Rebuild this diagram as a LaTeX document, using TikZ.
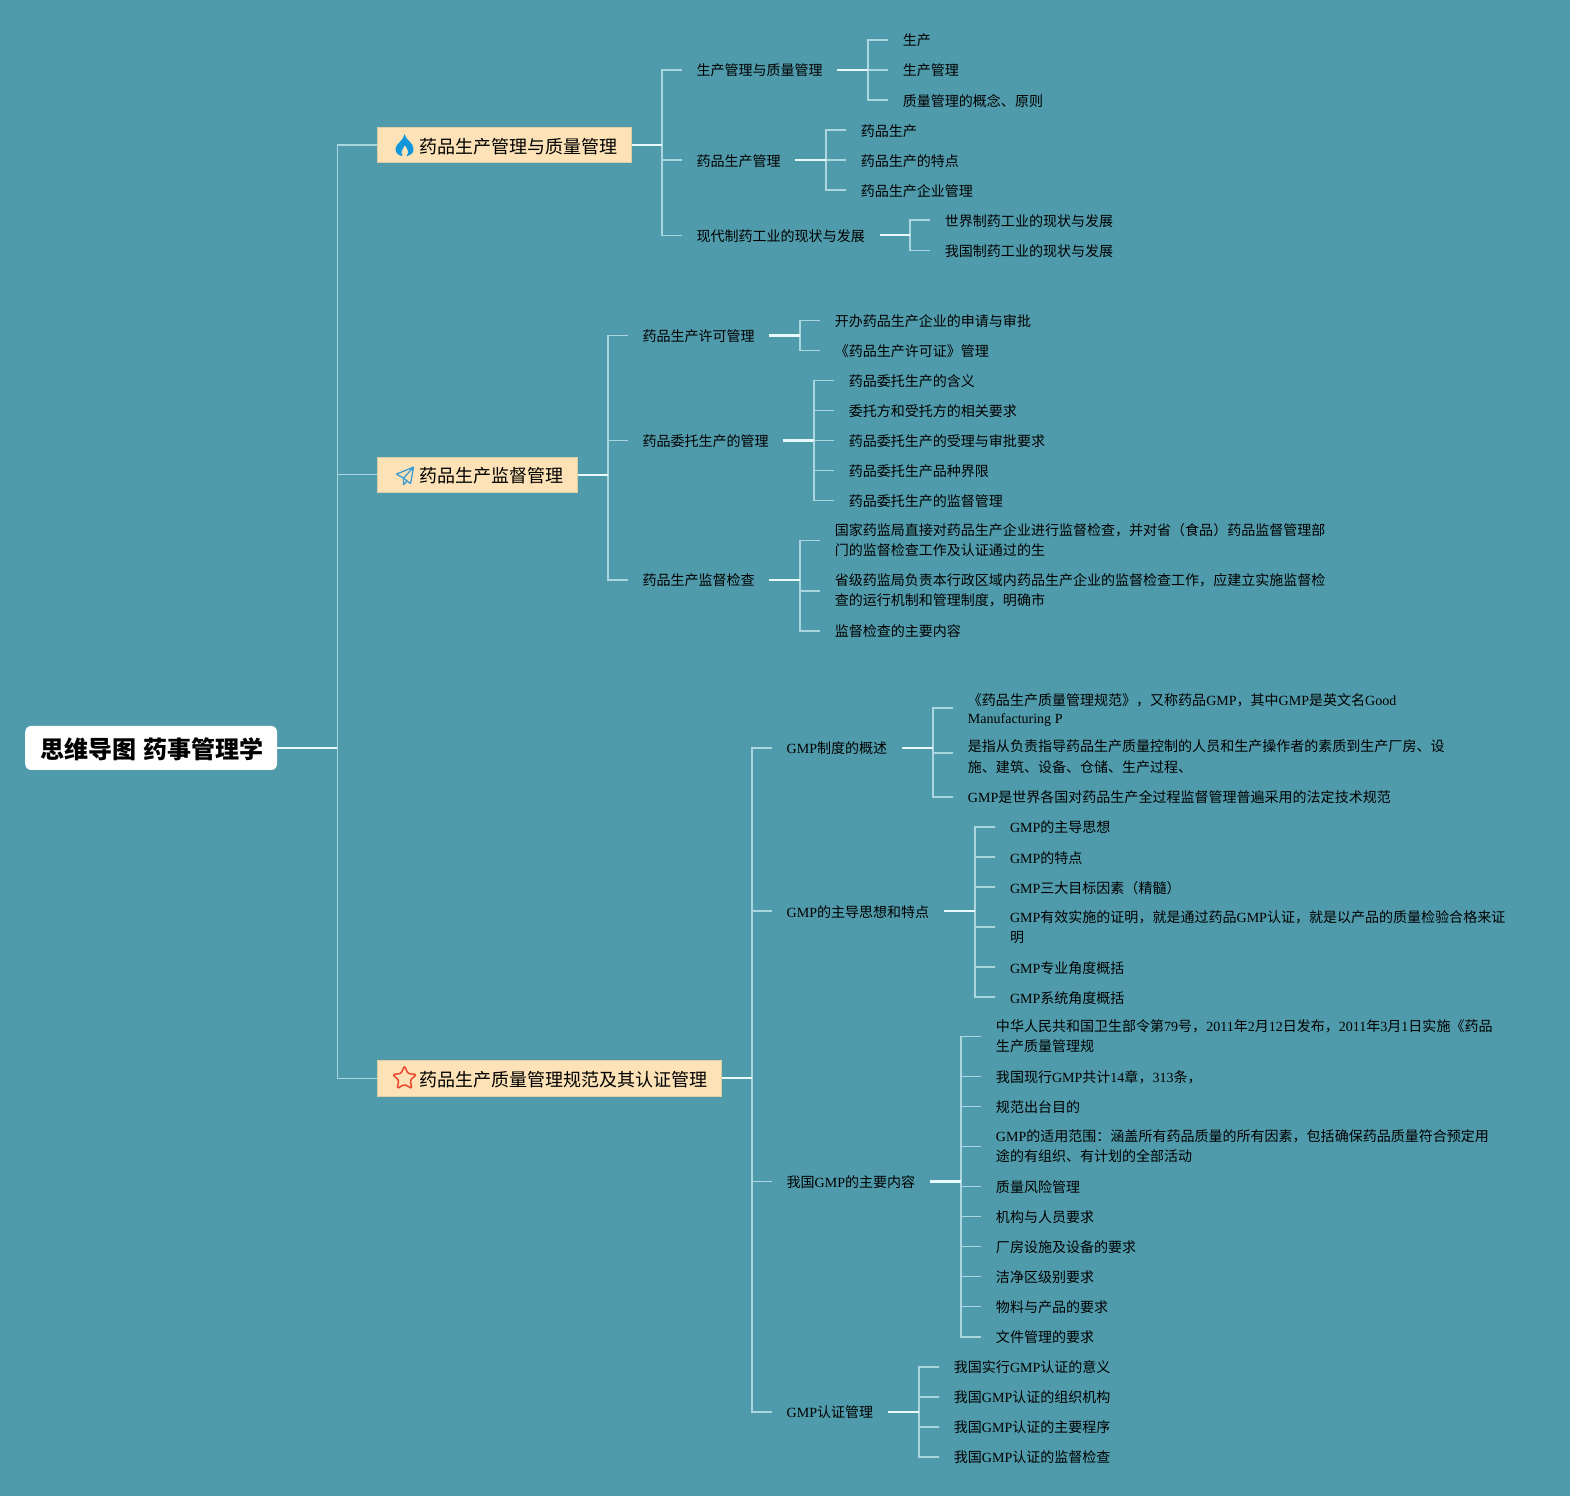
\documentclass[tikz,border=0pt]{standalone}
\usepackage{fontspec}
\usepackage{xcolor}
\setmainfont{Noto Sans CJK SC}
\newfontfamily\latfont{Liberation Serif}
\newcommand{\lat}[1]{{\latfont #1}}
\newcommand{\propup}[2]{\leavevmode\vrule height #1pt depth #2pt width 0pt\relax}
\usetikzlibrary{positioning, shapes.geometric, calc}
\definecolor{cBack}{HTML}{509BAB}
\definecolor{cTopic}{HTML}{FCE2B6}
\definecolor{cTopicB}{HTML}{DCCDA4}
\definecolor{cLink}{HTML}{ABD6E0}
\definecolor{cLinkB}{HTML}{E9FAFC}
\definecolor{cFlame}{HTML}{1296DB}
\definecolor{cPlane}{HTML}{3C9BD0}
\definecolor{cStar}{HTML}{E8482F}
\tikzset{
  rootbox/.style={anchor=west, fill=white, rounded corners=6pt, minimum height=44pt, inner xsep=15pt, inner ysep=0pt,
    font=\fontsize{24}{28}\selectfont\bfseries, execute at begin node={\propup{23}{0.8}}},
  topic/.style={anchor=west, fill=cTopic, draw=cTopicB, line width=0.8pt, minimum height=35pt, inner xsep=14pt, inner ysep=0pt,
    text=black, font=\fontsize{18}{22}\selectfont, execute at begin node={\propup{18}{0.3}}},
  leaf/.style={anchor=west, inner xsep=14.5pt, inner ysep=0pt, align=left, text=black, font=\fontsize{14}{20}\selectfont,
    execute at begin node={\propup{13.6}{1.8}}, execute at end node={\propup{13.6}{1.8}}},
  link/.style={draw=cLink, line width=1.6pt},
  linkmain/.style={draw=cLinkB, line width=2.2pt}
}

\begin{document}
\begin{tikzpicture}[x=1pt, y=-1pt]
  \fill[cBack] (0,0) rectangle (1568,1494);
  \useasboundingbox (0,0) rectangle (1568,1494);

  % root and topics
  \node[rootbox] (root) at (25,747) {思维导图 \hspace{2pt}药事管理学\hspace*{-2pt}};
  \node[topic] (prod) at (377,145) {\hspace*{27.5pt}药品生产管理与质量管理};
  \node[topic] (superv) at (377,474) {\hspace*{27.5pt}药品生产监督管理};
  \node[topic] (gmp) at (377,1077) {\hspace*{27.5pt}药品生产质量管理规范及其认证管理};
  \foreach \nm in {prod, superv, gmp}{
    \draw[link] (337,747) |- (\nm.west);
  }
  \draw[linkmain] (root.east) -- (337,747);

  % icons
  \fill[cFlame] (404,134) .. controls (405,140) and (413,142) .. (413,149)
    .. controls (413,153) and (410,155) .. (406,156)
    .. controls (409,152) and (407,148) .. (404,145)
    .. controls (403,149) and (399,151) .. (402,156)
    .. controls (398,155) and (395,153) .. (395,149)
    .. controls (395,143) and (403,141) .. (404,134) -- cycle;
  \draw[cPlane, line width=1.3pt, line join=round]
    (413,466.5) -- (396,473.5) -- (403,477.5) -- (413,466.5) -- (410,483) -- (403,477.5) -- (403,484) -- (406,481);
  \node[star, star points=5, star point ratio=2.1, draw=cStar, line width=1.5pt, minimum size=25pt, inner sep=0pt, rounded corners=1.5pt] (staricon) at (404,1077) {};

  % first topic
  \foreach \nm/\ypos/\txt in {p1/70/生产管理与质量管理, p2/160/药品生产管理, p3/235/现代制药工业的现状与发展}{
    \node[leaf] (\nm) at (681,\ypos) {\txt};
    \draw[link] (661,145) |- (\nm.west);
  }
  \draw[linkmain] (prod.east) -- (661,145);

  \foreach \nm/\ypos/\txt in {p11/40/生产, p12/70/生产管理, p13/100/质量管理的概念、原则}{
    \node[leaf] (\nm) at (887,\ypos) {\txt};
    \draw[link] (867,70) |- (\nm.west);
  }
  \draw[linkmain] (p1.east) -- (867,70);

  \foreach \nm/\ypos/\txt in {p21/130/药品生产, p22/160/药品生产的特点, p23/190/药品生产企业管理}{
    \node[leaf] (\nm) at (845,\ypos) {\txt};
    \draw[link] (825,160) |- (\nm.west);
  }
  \draw[linkmain] (p2.east) -- (825,160);

  \foreach \nm/\ypos/\txt in {p31/220/世界制药工业的现状与发展, p32/250/我国制药工业的现状与发展}{
    \node[leaf] (\nm) at (929,\ypos) {\txt};
    \draw[link] (909,235) |- (\nm.west);
  }
  \draw[linkmain] (p3.east) -- (909,235);

  % second topic
  \foreach \nm/\ypos/\txt in {s1/335/药品生产许可管理, s2/440/药品委托生产的管理, s3/579/药品生产监督检查}{
    \node[leaf] (\nm) at (627,\ypos) {\txt};
    \draw[link] (607,474) |- (\nm.west);
  }
  \draw[linkmain] (superv.east) -- (607,474);

  \foreach \nm/\ypos/\txt in {s11/320/开办药品生产企业的申请与审批, s12/350/《药品生产许可证》管理}{
    \node[leaf] (\nm) at (819,\ypos) {\txt};
    \draw[link] (799,335) |- (\nm.west);
  }
  \draw[linkmain] (s1.east) -- (799,335);

  \foreach \nm/\ypos/\txt in {s21/380/药品委托生产的含义, s22/410/委托方和受托方的相关要求, s23/440/药品委托生产的受理与审批要求,
      s24/470/药品委托生产品种界限, s25/500/药品委托生产的监督管理}{
    \node[leaf] (\nm) at (833,\ypos) {\txt};
    \draw[link] (813,440) |- (\nm.west);
  }
  \draw[linkmain] (s2.east) -- (813,440);

  \foreach \nm/\ypos/\txt in {s31/540/{国家药监局直接对药品生产企业进行监督检查，并对省（食品）药品监督管理部\\门的监督检查工作及认证通过的生},
      s32/590/{省级药监局负责本行政区域内药品生产企业的监督检查工作，应建立实施监督检\\查的运行机制和管理制度，明确市},
      s33/630/监督检查的主要内容}{
    \node[leaf] (\nm) at (819,\ypos) {\txt};
    \draw[link] (799,579) |- (\nm.west);
  }
  \draw[linkmain] (s3.east) -- (799,579);

  % third topic
  \foreach \nm/\ypos/\txt in {g1/747/\lat{GMP}制度的概述, g2/910/\lat{GMP}的主导思想和特点, g3/1180/我国\lat{GMP}的主要内容, g4/1410/\lat{GMP}认证管理}{
    \node[leaf] (\nm) at (771,\ypos) {\txt};
    \draw[link] (751,1077) |- (\nm.west);
  }
  \draw[linkmain] (gmp.east) -- (751,1077);

  % these texts sit a little below their elbows
  \foreach \nm/\ypos/\off/\txt in {g11/709/2pt/{《药品生产质量管理规范》，又称药品\lat{GMP}，其中\lat{GMP}是英文名\lat{Good}\\[-2pt]\lat{Manufacturing P}},
      g12/756/4pt/{是指从负责指导药品生产质量控制的人员和生产操作者的素质到生产厂房、设\\施、建筑、设备、仓储、生产过程、},
      g13/796/0pt/\lat{GMP}是世界各国对药品生产全过程监督管理普遍采用的法定技术规范}{
    \node[leaf] (\nm) at (952,\ypos) {\txt};
    \draw[link] (932,747) |- ([yshift=\off]\nm.west);
  }
  \draw[linkmain] (g1.east) -- (932,747);

  \foreach \nm/\ypos/\txt in {g21/826/\lat{GMP}的主导思想, g22/856/\lat{GMP}的特点, g23/886/\lat{GMP}三大目标因素（精髓）,
      g24/926/{\lat{GMP}有效实施的证明，就是通过药品\lat{GMP}认证，就是以产品的质量检验合格来证\\明},
      g25/966/\lat{GMP}专业角度概括, g26/996/\lat{GMP}系统角度概括}{
    \node[leaf] (\nm) at (994,\ypos) {\txt};
    \draw[link] (974,910) |- (\nm.west);
  }
  \draw[linkmain] (g2.east) -- (974,910);

  \foreach \nm/\ypos/\txt in {g31/1035/{中华人民共和国卫生部令第\lat{79}号，\lat{2011}年\lat{2}月\lat{12}日发布，\lat{2011}年\lat{3}月\lat{1}日实施《药品\\生产质量管理规},
      g32/1075/我国现行\lat{GMP}共计\lat{14}章，\lat{313}条，, g33/1105/规范出台目的,
      g34/1145/{\lat{GMP}的适用范围：涵盖所有药品质量的所有因素，包括确保药品质量符合预定用\\途的有组织、有计划的全部活动},
      g35/1185/质量风险管理, g36/1215/机构与人员要求, g37/1245/厂房设施及设备的要求,
      g38/1275/洁净区级别要求, g39/1305/物料与产品的要求, g310/1335/文件管理的要求}{
    \node[leaf] (\nm) at (980,\ypos) {\txt};
    \draw[link] (960,1180) |- (\nm.west);
  }
  \draw[linkmain] (g3.east) -- (960,1180);

  \foreach \nm/\ypos/\txt in {g41/1365/我国实行\lat{GMP}认证的意义, g42/1395/我国\lat{GMP}认证的组织机构, g43/1425/我国\lat{GMP}认证的主要程序, g44/1455/我国\lat{GMP}认证的监督检查}{
    \node[leaf] (\nm) at (938,\ypos) {\txt};
    \draw[link] (918,1410) |- (\nm.west);
  }
  \draw[linkmain] (g4.east) -- (918,1410);
\end{tikzpicture}
\end{document}
